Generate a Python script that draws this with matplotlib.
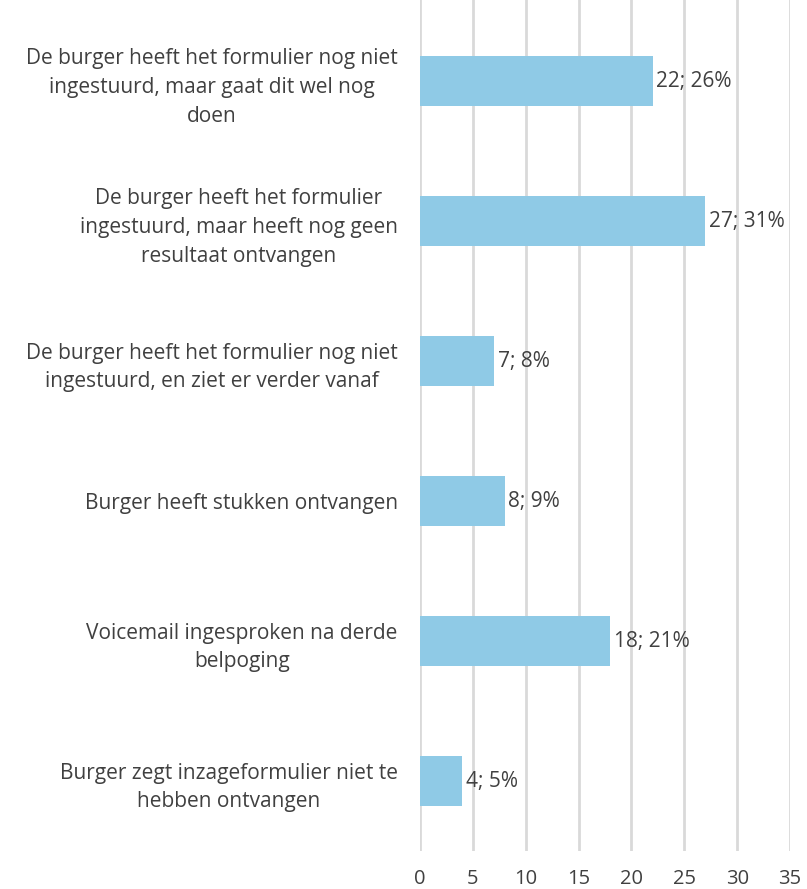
import matplotlib
matplotlib.use("Agg")
import matplotlib.pyplot as plt

categories = [
    "De burger heeft het formulier nog niet\ningestuurd, maar gaat dit wel nog\ndoen",
    "De burger heeft het formulier\ningestuurd, maar heeft nog geen\nresultaat ontvangen",
    "De burger heeft het formulier nog niet\ningestuurd, en ziet er verder vanaf",
    "Burger heeft stukken ontvangen",
    "Voicemail ingesproken na derde\nbelpoging",
    "Burger zegt inzageformulier niet te\nhebben ontvangen",
]
values = [22, 27, 7, 8, 18, 4]
percentages = [26, 31, 8, 9, 21, 5]
xticks = [0, 5, 10, 15, 20, 25, 30, 35]

plt.rcParams['font.family'] = ['Open Sans', 'DejaVu Sans']
text_color = '#404040'

fig = plt.figure(figsize=(8.07, 8.89), dpi=100)
ax = fig.add_axes([420/807, 1 - 851/889, 370/807, 851/889])

ypos = list(range(len(categories)))
ax.barh(ypos, values, height=0.355, color='#8FCAE6', zorder=3)
for y, v, p in zip(ypos, values, percentages):
    ax.text(v + 0.35, y, f"{v}; {p}%", va='center', ha='left',
            fontsize=15, color=text_color, zorder=4)

ax.set_xlim(0, 35)
ax.set_ylim(5.5, -81/140)
ax.set_xticks(xticks)
ax.set_xticklabels([str(t) for t in xticks], fontsize=14.5, color=text_color)
ax.set_yticks(ypos)
ax.set_yticklabels(categories, fontsize=15, color=text_color,
                   multialignment='center', linespacing=1.5)
ax.tick_params(axis='both', length=0)
ax.tick_params(axis='x', pad=13)
ax.tick_params(axis='y', pad=16)
ax.grid(axis='x', color='#D9D9D9', linewidth=2, zorder=0)
ax.grid(axis='y', visible=False)
for s in ax.spines.values():
    s.set_visible(False)

fig.savefig('out.png', dpi=100)
